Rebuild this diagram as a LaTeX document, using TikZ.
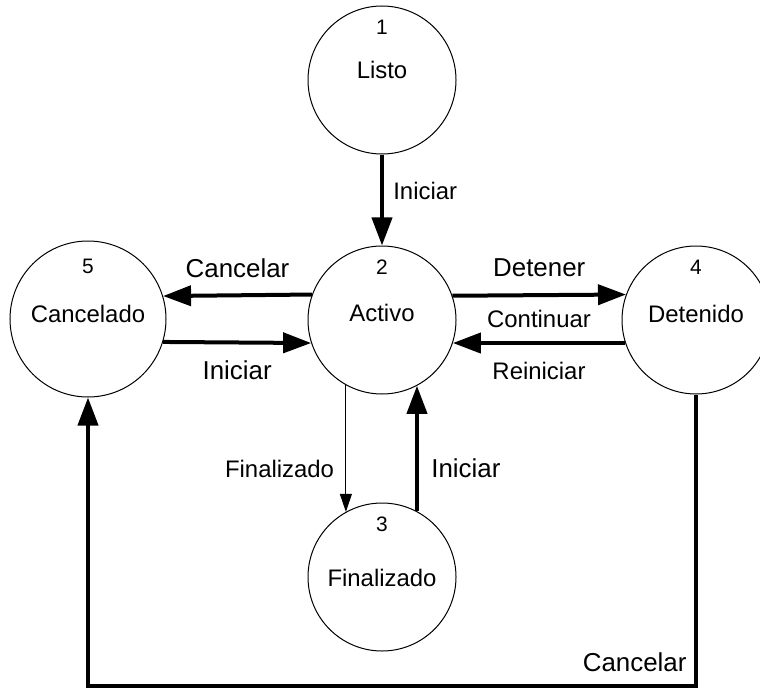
\documentclass[tikz,border=0pt]{standalone}
\usepackage{fontspec}
\setmainfont{Liberation Sans}
\usetikzlibrary{arrows.meta,positioning}

\tikzset{
  estado/.style={circle, draw, line width=1bp, minimum size=148bp, inner sep=0pt},
  numero/.style={font=\fontsize{21}{21}\selectfont, inner sep=0pt},
  nombre/.style={font=\fontsize{24}{24}\selectfont, inner sep=0pt},
  flecha/.style={line width=4bp, -{Triangle[length=28bp,width=20bp]}},
  fina/.style={line width=1bp, -{Triangle[length=18bp,width=12bp]}},
  etiq/.style={font=\fontsize{24}{24}\selectfont},
  etiqg/.style={font=\fontsize{26}{26}\selectfont},
}

\begin{document}
\begin{tikzpicture}[x=1bp, y=-1bp]
\useasboundingbox (0,0) rectangle (760,689);

% --- estados ---
\foreach \n/\num/\txt/\x/\y/\dy in {listo/1/Listo/382/80/10bp,
    activo/2/Activo/382/320/7bp,
    detenido/4/Detenido/696/320/6bp,
    finalizado/3/Finalizado/382/577/-1bp} {
  \node[estado] (\n) at (\x,\y) {};
  \node[numero] (\n-num) at ([yshift=53bp]\n.center) {\num};
  \node[nombre] (\n-txt) at ([yshift=\dy]\n.center) {\txt};
}
\node[estado, minimum size=156bp] (cancelado) at (88,319) {};
\node[numero] (cancelado-num) at ([yshift=53bp]cancelado.center) {5};
\node[nombre] (cancelado-txt) at ([yshift=5bp]cancelado.center) {Cancelado};

% --- transiciones ---
\draw[flecha] (listo) -- (activo)
  node[etiq, pos=0.4, right=6bp] (l-iniciar) {Iniciar};

\draw[flecha] (activo.160.3) -- (cancelado.17.9)
  node[etiqg, midway, above=12bp] (l-cancelar) {Cancelar};
\draw[flecha] (cancelado.-17.9) -- (activo.198.1)
  node[etiqg, midway, below=13bp] (l-iniciar2) {Iniciar};

\draw[flecha] (activo.19.7) -- (detenido.160.3)
  node[etiqg, midway, above=13bp] (l-detener) {Detener};
\draw[flecha] (detenido.198.1) -- (activo.-18.1)
  node[etiq, midway, above=10bp] (l-continuar) {Continuar}
  node[etiq, midway, below=14bp] (l-reiniciar) {Reiniciar};

\draw[fina] (activo.241) -- (finalizado.119)
  node[etiq, pos=0.66, left=8bp] (l-finalizado) {Finalizado};
\draw[flecha] (finalizado.62) -- (activo.298)
  node[etiqg, pos=0.34, right=9bp] (l-iniciar3) {Iniciar};

% cancelar desde detenido
\coordinate (fondoD) at (696,686);
\coordinate (fondoC) at (88,686);
\draw[flecha] (detenido.south) -- (fondoD) -- (fondoC) -- (cancelado.south);
\node[etiqg, above left=11bp and 6bp of fondoD] (l-cancelar2) {Cancelar};
\end{tikzpicture}
\end{document}
